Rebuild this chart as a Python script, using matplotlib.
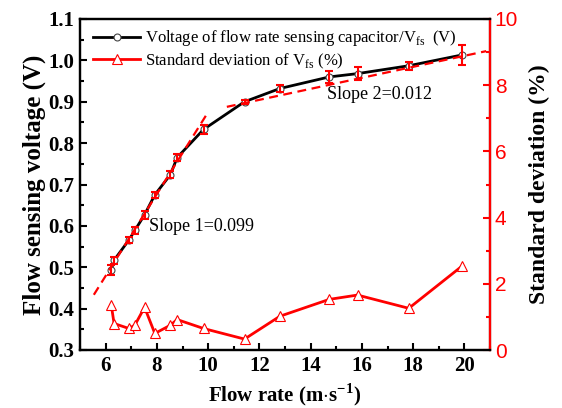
import matplotlib

matplotlib.use("Agg")
import matplotlib.pyplot as plt
import numpy as np
from matplotlib.ticker import MultipleLocator

plt.rcParams["font.family"] = ["Liberation Serif", "DejaVu Serif"]
plt.rcParams["mathtext.fontset"] = "custom"
plt.rcParams["mathtext.rm"] = "Liberation Serif"
plt.rcParams["mathtext.bf"] = "Liberation Serif:bold"

# flow rate (m/s)
flow = [6.22, 6.33, 6.91, 7.14, 7.52, 7.92, 8.53, 8.79, 9.82,
        11.42, 12.8, 14.73, 15.83, 17.83, 19.9]
# flow sensing voltage (V) and its error
voltage = [0.494, 0.517, 0.566, 0.589, 0.627, 0.675, 0.724, 0.765, 0.833,
           0.900, 0.932, 0.960, 0.968, 0.987, 1.013]
v_err = [0.012, 0.008, 0.008, 0.008, 0.010, 0.008, 0.008, 0.008, 0.010,
         0.005, 0.008, 0.015, 0.015, 0.010, 0.025]
# standard deviation of Vfs (%)
std_dev = [1.36, 0.80, 0.65, 0.75, 1.29, 0.50, 0.75, 0.92, 0.65,
           0.33, 1.02, 1.53, 1.66, 1.26, 2.53]

# linear fits: (slope, intercept, x start, x end)
fit1 = (0.099, -0.115, 5.54, 9.95)
fit2 = (0.0133, 0.745, 10.73, 20.85)

RED = "#ff0000"

fig = plt.figure(figsize=(5.62, 4.08), dpi=100)
ax = fig.add_axes([80 / 562, 1 - 350 / 408, 410 / 562, 331 / 408])
ax2 = ax.twinx()

ax.errorbar(flow, voltage, yerr=v_err, fmt="none", ecolor=RED, elinewidth=1.5,
            capsize=3, capthick=1.5, zorder=4)
line_v, = ax.plot(flow, voltage, color="black", lw=2, marker="o", ms=5,
                  mfc="white", mec="#444444", mew=0.8, zorder=3,
                  label=r"Voltage of flow rate sensing capacitor/V$_{\mathrm{fs}}$  (V)")
for k, b, x0, x1 in (fit1, fit2):
    xs = np.array([x0, x1])
    ax.plot(xs, k * xs + b, color=RED, lw=1.6, ls=(0, (4, 2.5)), zorder=5)

line_s, = ax2.plot(flow, std_dev, color=RED, lw=2, marker="^", ms=7,
                   mfc="white", mec=RED, mew=0.8,
                   label=r"Standard deviation of V$_{\mathrm{fs}}$ (%)")

ax.text(7.71, 0.598, "Slope 1=0.099", fontsize=13, va="center")
ax.text(14.65, 0.918, "Slope 2=0.012", fontsize=13, va="center")

ax.set_xlim(5, 21)
ax.set_ylim(0.3, 1.1)
ax2.set_ylim(0, 10)
ax.xaxis.set_major_locator(MultipleLocator(2))
ax.xaxis.set_minor_locator(MultipleLocator(1))
ax.yaxis.set_major_locator(MultipleLocator(0.1))
ax.yaxis.set_minor_locator(MultipleLocator(0.05))
ax2.yaxis.set_major_locator(MultipleLocator(2))
ax2.yaxis.set_minor_locator(MultipleLocator(1))

for a in (ax, ax2):
    for s in a.spines.values():
        s.set_linewidth(1.6)
ax2.spines["right"].set_color(RED)
ax.tick_params(which="both", direction="in", width=1.5, labelsize=15,
               right=False, top=False, pad=4)
ax.tick_params(which="major", length=5)
ax.tick_params(which="minor", length=3)
for lab in ax.get_xticklabels() + ax.get_yticklabels():
    lab.set_fontweight("bold")
ax2.tick_params(which="both", direction="in", width=1.5, colors=RED, labelsize=15)
ax2.tick_params(which="major", length=5)
ax2.tick_params(which="minor", length=3)
for lab in ax2.get_yticklabels():
    lab.set_family("Liberation Sans")

ax.set_xlabel(r"Flow rate (m$\cdot$s$^{\mathbf{-1}}$)", fontsize=15,
              fontweight="bold", labelpad=4)
ax.set_ylabel("Flow sensing voltage (V)", fontsize=18, fontweight="bold", labelpad=2)
ax2.set_ylabel("Standard deviation (%)", fontsize=17, fontweight="bold", labelpad=8)

ax.legend(handles=[line_v, line_s], loc="upper left", frameon=False, fontsize=12,
          handlelength=2.8, bbox_to_anchor=(0.0, 1.012), labelspacing=0.2,
          handletextpad=0.3, borderpad=0.3)

fig.savefig("out.png", dpi=100)
